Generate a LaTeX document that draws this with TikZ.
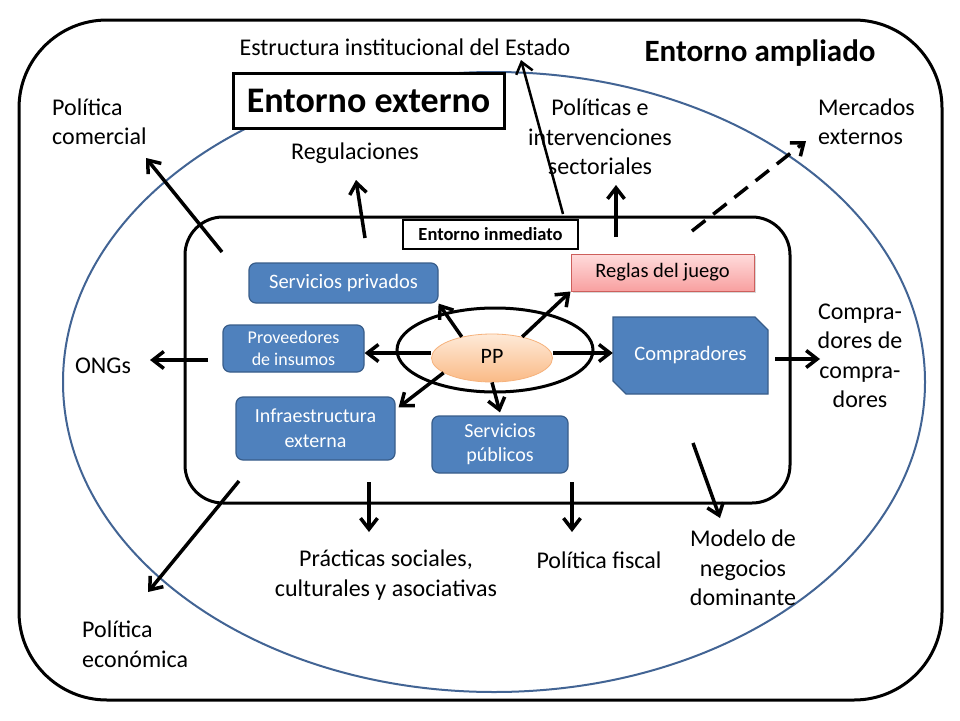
\documentclass[tikz,border=0pt]{standalone}
\usepackage{fontspec}
\setmainfont{Carlito}
\usetikzlibrary{arrows.meta,shapes.geometric,shadows,calc}
\definecolor{boxblue}{RGB}{79,129,189}
\definecolor{boxborder}{RGB}{56,93,138}
\definecolor{ellblue}{RGB}{66,100,148}
\definecolor{rgTop}{RGB}{255,220,220}
\definecolor{rgBot}{RGB}{248,160,160}
\definecolor{rgBorder}{RGB}{205,95,92}
\definecolor{ppTop}{RGB}{254,234,216}
\definecolor{ppBot}{RGB}{250,186,134}
\definecolor{ppBorder}{RGB}{246,178,124}
\begin{document}
\begin{tikzpicture}[x=1pt,y=-1pt,
  lbl/.style={font=\fontsize{24}{29.5}\selectfont, inner sep=0pt, align=center},
  bluebox/.style={draw=boxborder, fill=boxblue, rounded corners=7pt, line width=1.2pt,
    text=white, inner sep=0pt, align=center},
  arr/.style={line width=3.5pt, -{Straight Barb[length=11pt,width=17pt]}},
]
\useasboundingbox (0,0) rectangle (960,720);
\fill[white] (0,0) rectangle (960,720);
% frames
\draw[line width=3pt, rounded corners=88pt] (19,20) rectangle (942,700);
\draw[ellblue, line width=2pt] (494,382) ellipse [x radius=431pt, y radius=310pt];
\draw[line width=3pt, rounded corners=38pt] (185,217) rectangle (790,503);

% titles
\node[lbl] (estado) at (405,47) {Estructura institucional del Estado};
\node[lbl, font=\bfseries\fontsize{31}{36}\selectfont] (ampl) at (760,53) {Entorno ampliado};
\node[draw, line width=3pt, fill=white, minimum width=271pt, minimum height=55pt, inner sep=0pt,
  font=\bfseries\fontsize{36}{40}\selectfont] (ext) at (368.5,100.5) {Entorno externo};
\node[draw, line width=2.5pt, fill=white, minimum width=175pt, minimum height=29pt, inner sep=0pt,
  font=\bfseries\fontsize{18.5}{22}\selectfont] (inm) at (490.5,234.5) {Entorno inmediato};

% outer labels
\node[lbl, align=left, anchor=west] (polcom) at (52,122) {Política\\comercial};
\node[lbl] (regul) at (355,153) {Regulaciones};
\node[lbl] (polint) at (600,137) {Políticas e\\intervenciones\\sectoriales};
\node[lbl, align=left, anchor=west] (merc) at (818,122) {Mercados\\externos};
\node[lbl] (ongs) at (103,366) {ONGs};
\node[lbl] (cdc) at (860,356) {Compra-\\dores de\\compra-\\dores};
\node[lbl] (prac) at (386,575) {Prácticas sociales,\\culturales y asociativas};
\node[lbl] (fiscal) at (599,560) {Política fiscal};
\node[lbl] (modelo) at (743,568) {Modelo de\\negocios\\dominante};
\node[lbl, align=left, anchor=west] (polecon) at (82,644) {Política\\económica};

% inner nodes
\node[draw, line width=3pt, ellipse, minimum width=196pt, minimum height=84pt, inner sep=0pt] (ring) at (495,350) {};
\node[bluebox, minimum width=189pt, minimum height=40pt, font=\fontsize{20.5}{24}\selectfont] (sp) at (343.5,283) {Servicios privados};
\node[bluebox, minimum width=141pt, minimum height=47pt, font=\fontsize{18}{22}\selectfont] (prov) at (293.5,348.5) {Proveedores\\de insumos};
\node[bluebox, minimum width=159pt, minimum height=63pt, font=\fontsize{20}{25}\selectfont] (infra) at (315.5,428.5) {Infraestructura\\externa};
\node[bluebox, minimum width=136pt, minimum height=57pt, font=\fontsize{20}{24}\selectfont] (spub) at (500,444.5) {Servicios\\públicos};
\node[draw=rgBorder, line width=1pt, top color=rgTop, bottom color=rgBot, minimum width=183pt, minimum height=37pt,
  inner sep=0pt, font=\fontsize{20.5}{24}\selectfont,
  drop shadow={opacity=0.3, shadow xshift=1.5pt, shadow yshift=-2pt}] (reglas) at (662.5,272.5) {Reglas del juego};
\coordinate (compc) at (690.5,355.5);
\filldraw[fill=boxblue, draw=boxborder, line width=1.2pt]
  ($(compc)+(-77.5,-38.5)$) -- ($(compc)+(64.5,-38.5)$) -- ($(compc)+(77.5,-25.5)$)
  -- ($(compc)+(77.5,38.5)$) -- ($(compc)+(-64.5,38.5)$) -- ($(compc)+(-77.5,25.5)$) -- cycle;
\node[text=white, minimum width=155pt, minimum height=77pt, inner sep=0pt, font=\fontsize{20.5}{24}\selectfont] (comp) at (compc) {\raisebox{-2pt}{Compradores}};
\node[ellipse, minimum width=121pt, minimum height=48pt, inner sep=0pt, top color=ppTop, bottom color=ppBot,
  draw=ppBorder, line width=0.8pt, font=\fontsize{22}{26}\selectfont] (pp) at (492,358) {\raisebox{3pt}{PP}};

% arrows from PP
\draw[arr] (pp.145) -- (sp.south east);
\draw[arr] ([yshift=5pt]pp.west) -- ([yshift=5pt]pp.west -| prov.east);
\draw[arr] (pp.197) -- ([xshift=3pt,yshift=-11pt]infra.north east);
\draw[arr] (pp.south) -- ([yshift=3pt]spub.north);
\draw[arr] (pp.35) -- (reglas.south west);
\draw[arr] ([yshift=5pt]pp.east) -- ([yshift=5pt]pp.east -| comp.west);

% outward arrows
\coordinate (a1) at (222,252); \coordinate (b1) at (146,158);
\draw[arr] (a1) -- (b1);
\coordinate (a2) at (365,238); \coordinate (b2) at (356,180);
\draw[arr] (a2) -- (b2);
\coordinate (a3) at (563,214); \coordinate (b3) at (521,60);
\draw[arr, line width=2.5pt] (a3) -- (b3);
\coordinate (a4) at (616,237); \coordinate (b4) at (616,185);
\draw[arr] (a4) -- (b4);
\coordinate (a5) at (692,231); \coordinate (b5) at (806,141);
\draw[arr, dash pattern=on 17pt off 10pt] (a5) -- (b5);
\coordinate (a6) at (208,360); \coordinate (b6) at (150,360);
\draw[arr] (a6) -- (b6);
\coordinate (a7) at (775,359); \coordinate (b7) at (820,359);
\draw[arr] (a7) -- (b7);
\coordinate (a8) at (239,481); \coordinate (b8) at (148,592);
\draw[arr] (a8) -- (b8);
\coordinate (a9) at (369,482); \coordinate (b9) at (369,532);
\draw[arr] (a9) -- (b9);
\coordinate (a10) at (572,482); \coordinate (b10) at (572,532);
\draw[arr] (a10) -- (b10);
\coordinate (a11) at (693,443); \coordinate (b11) at (720,518);
\draw[arr] (a11) -- (b11);
\end{tikzpicture}
\end{document}
